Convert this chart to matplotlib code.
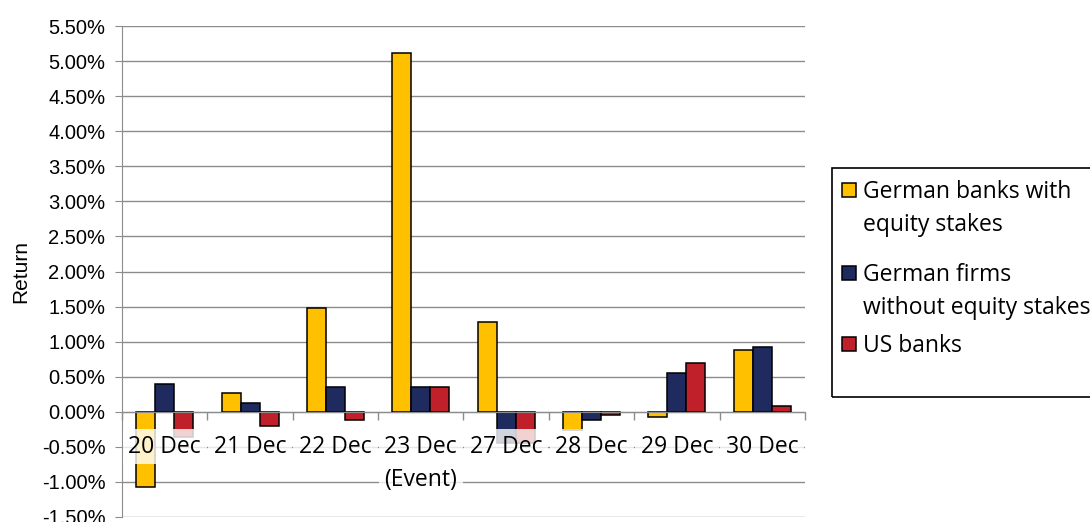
import numpy as np
import matplotlib.pyplot as plt
from matplotlib.patches import Rectangle
from matplotlib.ticker import FuncFormatter

categories = ["20 Dec", "21 Dec", "22 Dec", "23 Dec\n(Event)", "27 Dec", "28 Dec", "29 Dec", "30 Dec"]
banks_with_stakes = [-1.07, 0.27, 1.48, 5.11, 1.28, -0.26, -0.07, 0.88]
firms_without_stakes = [0.40, 0.13, 0.36, 0.35, -0.44, -0.11, 0.56, 0.93]
us_banks = [-0.36, -0.20, -0.11, 0.35, -0.44, -0.04, 0.69, 0.08]
series_names = ["German banks with\nequity stakes", "German firms\nwithout equity stakes", "US banks"]
colors = ["#FFC000", "#1F2A5F", "#C0202A"]
yticks = np.arange(-1.5, 5.51, 0.5)

plt.rcParams["font.family"] = "Liberation Sans"

W, H = 1090, 522
grey = "#8c8c8c"
fig = plt.figure(figsize=(W / 100, H / 100), dpi=100)
ax = fig.add_axes([122 / W, 5 / H, 683 / W, 491 / H])

# spines first: set_position resets the tick objects
for s in ["top", "right"]:
    ax.spines[s].set_visible(False)
ax.spines["bottom"].set_position(("data", 0))
ax.spines["bottom"].set_color(grey)
ax.spines["left"].set_color(grey)

x = np.arange(len(categories))
bw = 0.223
for i, vals in enumerate([banks_with_stakes, firms_without_stakes, us_banks]):
    ax.bar(x + (i - 1) * bw, vals, width=bw, color=colors[i], edgecolor="black",
           linewidth=1.1, zorder=1)

for v in yticks:
    ax.axhline(v, color=grey, linewidth=1.0, zorder=0.5)

ax.set_xlim(-0.5, len(categories) - 0.5)
ax.set_ylim(-1.5, 5.5)
ax.set_yticks(yticks)
ax.yaxis.set_major_formatter(FuncFormatter(lambda v, p: f"{v:.2f}%"))
ax.tick_params(axis="y", length=5, color=grey, pad=7, labelsize=14.5)

ax.set_xticks(x)
ax.set_xticklabels(categories)
ax.set_xticks(np.arange(-0.5, len(categories), 1), minor=True)
ax.tick_params(axis="x", which="major", length=0, pad=16.5, labelsize=16.5,
               labelfontfamily="Open Sans")
ax.tick_params(axis="x", which="minor", length=6, color=grey, width=1)
ax.xaxis.set_zorder(3)
for lbl in ax.get_xticklabels():
    lbl.set_linespacing(1.5)
    lbl.set_bbox(dict(boxstyle="square,pad=0.25", fc="white", ec="none", alpha=0.8))

ax.set_ylabel("Return", fontsize=15)
ax.yaxis.set_label_coords(-0.134, 0.5)

# legend box, cut at the right edge like the original
fig.patches.append(Rectangle((832 / W, 1 - 397 / H), (1100 - 832) / W, (397 - 168) / H,
                             transform=fig.transFigure, fill=False, ec="black",
                             lw=1.2, clip_on=False))
sq_tops = [183, 266, 337]
for name, col, top in zip(series_names, colors, sq_tops):
    fig.patches.append(Rectangle((842 / W, 1 - (top + 14) / H), 14 / W, 14 / H,
                                 transform=fig.transFigure, fc=col, ec="black", lw=1.1))
    for k, line in enumerate(name.split("\n")):
        fig.text(863 / W, 1 - (top + 15 + 33 * k) / H, line, fontfamily="Open Sans",
                 fontsize=16.5, va="baseline", ha="left")

fig.savefig("out.png", dpi=100)
